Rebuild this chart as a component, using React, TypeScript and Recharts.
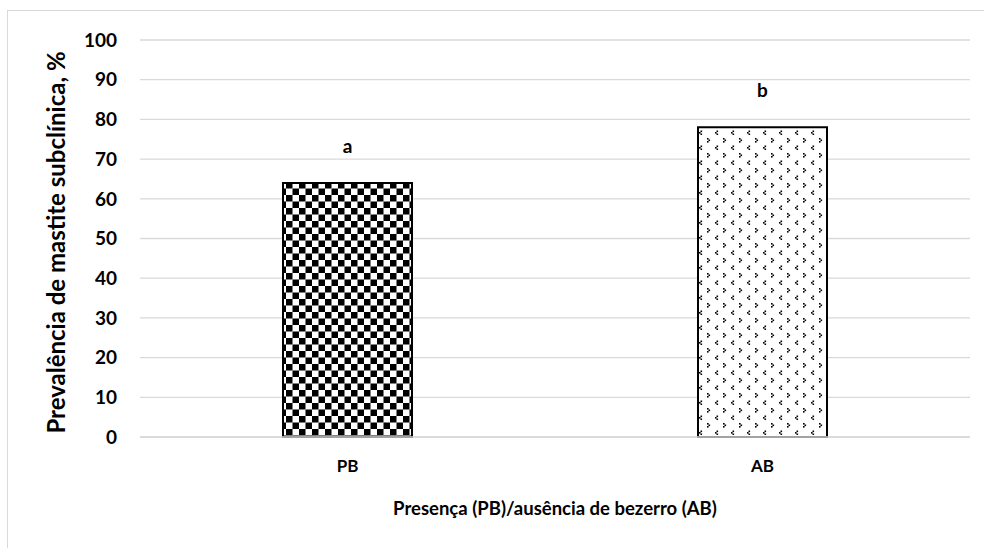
import React from 'react';
import { BarChart, Bar, XAxis, YAxis, CartesianGrid, Cell, LabelList } from 'recharts';

const categories = ['PB', 'AB'];
const prevalence = [64, 78];
const significance = ['a', 'b'];
const yTicks = [0, 10, 20, 30, 40, 50, 60, 70, 80, 90, 100];
const fills = ['url(#checker)', 'url(#dots)'];

const data = categories.map((c, i) => ({ name: c, value: prevalence[i], sig: significance[i] }));

const FONT = 'Lato, "Open Sans", sans-serif';

const YTitle = (props: any) => {
  const vb = props.viewBox || {};
  const cx = 55;
  const cy = (vb.y ?? 40) + (vb.height ?? 397) / 2 + 4;
  return (
    <text x={cx} y={cy} transform={`rotate(-90 ${cx} ${cy})`} textAnchor="middle" dominantBaseline="central"
      fontFamily={FONT} fontWeight="bold" fontSize={24} fill="#000">
      Prevalência de mastite subclínica, %
    </text>
  );
};

export default function App() {
  return (
    <div style={{ position: 'absolute', left: 0, top: 0, width: 984, height: 548, overflow: 'hidden', background: '#fff' }}>
      <svg width="0" height="0" style={{ position: 'absolute' }}>
        <defs>
          <pattern id="checker" patternUnits="userSpaceOnUse" width="13" height="13">
            <rect x="0" y="0" width="13" height="13" fill="#fff" />
            <rect x="0" y="0" width="6.5" height="6.5" fill="#000" />
            <rect x="6.5" y="6.5" width="6.5" height="6.5" fill="#000" />
          </pattern>
          <pattern id="dots" patternUnits="userSpaceOnUse" width="16" height="15">
            <rect x="0" y="0" width="16" height="15" fill="#fff" />
            <rect x="3" y="3" width="1.6" height="1.6" fill="#000" />
            <rect x="4.5" y="4.5" width="1.6" height="1.6" fill="#000" />
            <rect x="3" y="6" width="1.6" height="1.6" fill="#000" />
            <rect x="12.5" y="10.5" width="1.6" height="1.6" fill="#000" />
            <rect x="11" y="12" width="1.6" height="1.6" fill="#000" />
            <rect x="12.5" y="13.5" width="1.6" height="1.6" fill="#000" />
          </pattern>
        </defs>
      </svg>
      <div style={{ position: 'absolute', left: 7, top: 10, width: 1100, height: 700, border: '1.5px solid #d9d9d9' }} />
      <div style={{ position: 'absolute', left: 0, top: 0 }}>
        <BarChart width={984} height={548} data={data} margin={{ top: 40, right: 14, bottom: 0, left: 0 }}>
          <CartesianGrid horizontal vertical={false} stroke="#d9d9d9" strokeWidth={1.3} />
          <XAxis dataKey="name" height={111} axisLine={{ stroke: '#d9d9d9', strokeWidth: 1.3 }} tickLine={false} tickSize={0} tickMargin={23}
            tick={{ fontFamily: FONT, fontWeight: 'bold', fontSize: 17, fill: '#000' }}
            label={{ value: 'Presença (PB)/ausência de bezerro (AB)', position: 'insideBottom', offset: 33, fontFamily: FONT, fontWeight: 'bold', fontSize: 18.5, fill: '#000' }} />
          <YAxis width={140} domain={[0, 100]} ticks={yTicks} interval={0} axisLine={false} tickLine={false} tickSize={0} tickMargin={23}
            tick={{ fontFamily: FONT, fontWeight: 'bold', fontSize: 19, fill: '#000' }}
            label={<YTitle />} />
          <Bar dataKey="value" barSize={129} stroke="#000" strokeWidth={2} isAnimationActive={false}>
            {data.map((d, i) => (
              <Cell key={d.name} fill={fills[i]} />
            ))}
            <LabelList dataKey="sig" position="top" offset={30} fontFamily={FONT} fontWeight="bold" fontSize={19} fill="#000" />
          </Bar>
        </BarChart>
      </div>
    </div>
  );
}
